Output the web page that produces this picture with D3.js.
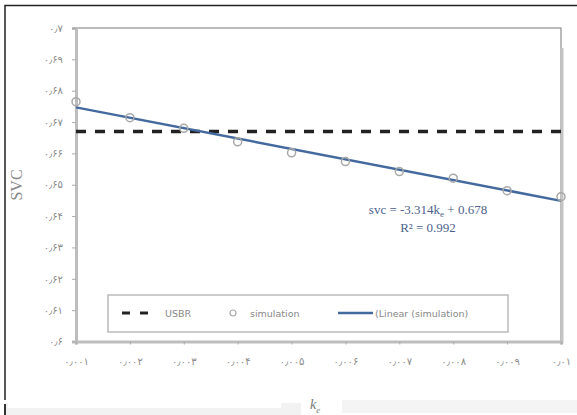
<html>
<head>
<meta charset="utf-8">
<title>SVC</title>
<script src="https://d3js.org/d3.v7.min.js"></script>
<style>
  body { margin: 0; background: #fff; }
  svg { display: block; }
</style>
</head>
<body>
<div id="mychart"></div>
<script>
// k_e values and simulated SVC
var ke = [0.001, 0.002, 0.003, 0.004, 0.005, 0.006, 0.007, 0.008, 0.009, 0.01];
var simulation = [0.6765, 0.6714, 0.6680, 0.6637, 0.6602, 0.6574, 0.6542, 0.6521, 0.6481, 0.6462];
var usbr = 0.667;
// trend line from the equation on the chart
var slope = -3.314, intercept = 0.678;

var xTicks = [0.001, 0.002, 0.003, 0.004, 0.005, 0.006, 0.007, 0.008, 0.009, 0.01];
var xTickLabels = ["۰٫۰۰۱", "۰٫۰۰۲", "۰٫۰۰۳", "۰٫۰۰۴", "۰٫۰۰۵", "۰٫۰۰۶", "۰٫۰۰۷", "۰٫۰۰۸", "۰٫۰۰۹", "۰٫۰۱"];
var yTicks = [0.6, 0.61, 0.62, 0.63, 0.64, 0.65, 0.66, 0.67, 0.68, 0.69, 0.7];
var yTickLabels = ["۰٫۶", "۰٫۶۱", "۰٫۶۲", "۰٫۶۳", "۰٫۶۴", "۰٫۶۵", "۰٫۶۶", "۰٫۶۷", "۰٫۶۸", "۰٫۶۹", "۰٫۷"];

var width = 577, height = 415;
var svg = d3.select("#mychart").append("svg")
    .attr("width", width)
    .attr("height", height);

// screenshot leftovers: outer frame and grey bars at the bottom
svg.append("rect").attr("x", 5).attr("y", 403).attr("width", 296).attr("height", 12).attr("fill", "#f2f2f2");
svg.append("rect").attr("x", 8).attr("y", 403).attr("width", 273).attr("height", 5).attr("fill", "#fff");
svg.append("rect").attr("x", 342).attr("y", 400).attr("width", 235).attr("height", 13).attr("fill", "#f4f4f4");
svg.append("path").attr("d", "M5,400 V5.5 H577").attr("fill", "none").attr("stroke", "#222").attr("stroke-width", 1.5);
svg.append("line").attr("x1", 5).attr("x2", 5).attr("y1", 404).attr("y2", 415).attr("stroke", "#333").attr("stroke-width", 2);

var x = d3.scaleLinear().domain([0.001, 0.01]).range([76, 561]);
var y = d3.scaleLinear().domain([0.6, 0.7]).range([341.5, 28]);

// plot area frame
svg.append("rect")
    .attr("x", x(0.001)).attr("y", y(0.7))
    .attr("width", x(0.01) - x(0.001)).attr("height", y(0.6) - y(0.7))
    .attr("fill", "none").attr("stroke", "#777").attr("stroke-width", 1);
svg.append("line").attr("x1", x(0.01) + 1).attr("x2", x(0.01) + 1).attr("y1", 48).attr("y2", y(0.6) + 2)
    .attr("stroke", "#c4c4c4").attr("stroke-width", 3);

var yAxis = svg.append("g")
    .attr("transform", "translate(" + x(0.001) + ",0)")
    .call(d3.axisLeft(y).tickValues(yTicks).tickSize(4).tickPadding(9)
        .tickFormat(function(d, i) { return yTickLabels[i]; }));
var xAxis = svg.append("g")
    .attr("transform", "translate(0," + y(0.6) + ")")
    .call(d3.axisBottom(x).tickValues(xTicks).tickSize(3).tickPadding(13)
        .tickFormat(function(d, i) { return xTickLabels[i]; }));

[yAxis, xAxis].forEach(function(a) {
    a.select(".domain").attr("stroke", "#bdbdbd").attr("stroke-width", 3);
    a.selectAll(".tick line").attr("stroke", "#aaa");
    a.selectAll(".tick text")
        .attr("fill", "#8a8a8a")
        .style("font-family", "DejaVu Sans")
        .style("font-size", "10px");
});

// USBR
svg.append("line")
    .attr("x1", x(0.001)).attr("x2", x(0.01))
    .attr("y1", y(usbr)).attr("y2", y(usbr))
    .attr("stroke", "#222").attr("stroke-width", 3.5)
    .attr("stroke-dasharray", "10,9");

// linear trend
var trend = d3.line()
    .x(function(d) { return x(d); })
    .y(function(d) { return y(slope * d + intercept); });
svg.append("path")
    .datum([ke[0], ke[ke.length - 1]])
    .attr("d", trend)
    .attr("fill", "none").attr("stroke", "#43699e").attr("stroke-width", 2.5);

// simulation markers
svg.selectAll("circle.sim")
    .data(ke)
    .enter()
    .append("circle")
    .attr("class", "sim")
    .attr("cx", function(d) { return x(d); })
    .attr("cy", function(d, i) { return y(simulation[i]); })
    .attr("r", 4)
    .attr("fill", "none").attr("stroke", "#a8a8a8").attr("stroke-width", 1.5);

// equation
var eq = svg.append("text")
    .attr("x", 428).attr("y", 214)
    .attr("text-anchor", "middle")
    .attr("fill", "#4d5f8c")
    .style("font-family", "Liberation Serif")
    .style("font-size", "13px");
eq.append("tspan").text("svc = -3.314k");
eq.append("tspan").attr("dy", 3).style("font-size", "9px").text("e");
eq.append("tspan").attr("dy", -3).text(" + 0.678");
svg.append("text")
    .attr("x", 428).attr("y", 232)
    .attr("text-anchor", "middle")
    .attr("fill", "#4d5f8c")
    .style("font-family", "Liberation Serif")
    .style("font-size", "13px")
    .text("R² = 0.992");

// axis titles
svg.append("text")
    .attr("transform", "translate(22,185) rotate(-90)")
    .attr("text-anchor", "middle")
    .attr("fill", "#888")
    .style("font-family", "Liberation Serif")
    .style("font-size", "16px")
    .text("SVC");
var kt = svg.append("text")
    .attr("x", 310).attr("y", 409)
    .attr("fill", "#777")
    .style("font-family", "Liberation Serif")
    .style("font-style", "italic")
    .style("font-size", "14px");
kt.append("tspan").text("k");
kt.append("tspan").attr("dy", 4).style("font-size", "9px").text("e");

// legend
var legend = svg.append("g");
legend.append("rect")
    .attr("x", 108).attr("y", 295).attr("width", 400).attr("height", 37)
    .attr("fill", "#fff").attr("stroke", "#bbb").attr("stroke-width", 1.5);
var ly = 313;
legend.append("line").attr("x1", 122).attr("x2", 150).attr("y1", ly).attr("y2", ly)
    .attr("stroke", "#222").attr("stroke-width", 3).attr("stroke-dasharray", "8,10");
legend.append("circle").attr("cx", 233).attr("cy", ly).attr("r", 3)
    .attr("fill", "none").attr("stroke", "#aaa").attr("stroke-width", 1.2);
legend.append("line").attr("x1", 338).attr("x2", 373).attr("y1", ly).attr("y2", ly)
    .attr("stroke", "#43699e").attr("stroke-width", 2.5);
var legendItems = [["USBR", 165], ["simulation", 250], ["(Linear (simulation)", 375]];
legend.selectAll("text.lab")
    .data(legendItems)
    .enter()
    .append("text")
    .attr("class", "lab")
    .attr("x", function(d) { return d[1]; })
    .attr("y", ly + 3.5)
    .attr("fill", "#888")
    .style("font-family", "DejaVu Sans")
    .style("font-size", "9.5px")
    .text(function(d) { return d[0]; });
</script>
</body>
</html>
